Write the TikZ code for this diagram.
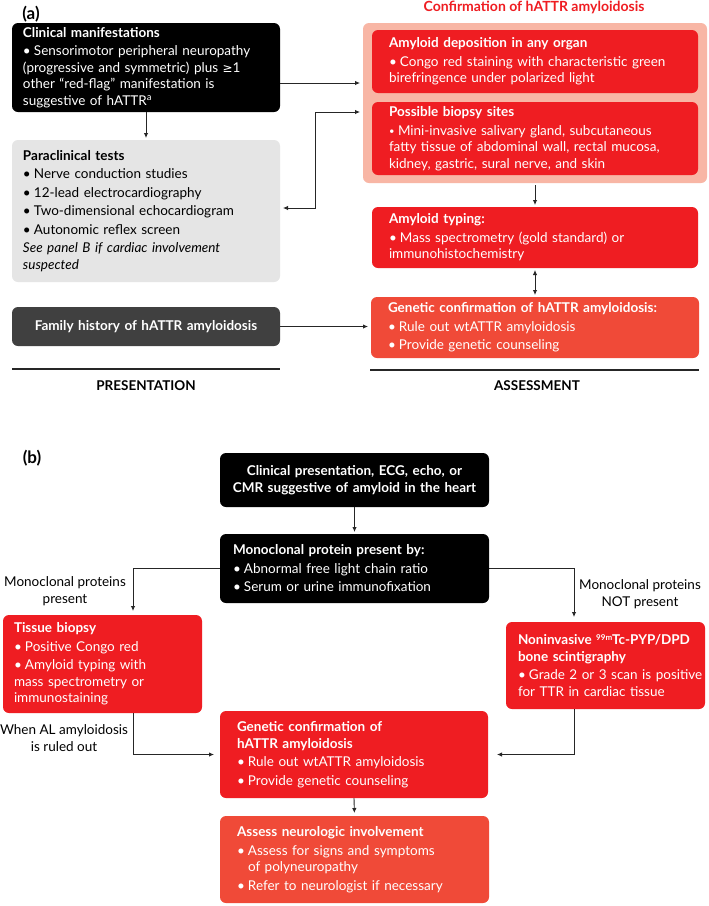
\documentclass[tikz,border=0pt]{standalone}
\usepackage{fontspec}
\setmainfont{Lato}
\newfontfamily\djv{DejaVu Sans}
\usetikzlibrary{arrows.meta}
\definecolor{cred}{RGB}{239,29,34}
\definecolor{cred2}{RGB}{240,74,56}
\definecolor{cpink}{RGB}{248,182,165}
\definecolor{cgrey}{RGB}{229,229,229}
\definecolor{cdark}{RGB}{64,64,64}
\setlength\parindent{0pt}
\newcommand\itm[1]{\par\vspace{2pt}\hangindent=11pt\hangafter=1\noindent\hbox to 11pt{\textbullet\hss}#1}
\newcommand\itmb[1]{\par\vspace{2pt}\hangindent=9pt\hangafter=1\noindent\hbox to 9pt{\raisebox{1pt}{\scalebox{0.7}{\textbullet}}\hss}#1}
\newcommand\fs{\fontsize{13.5}{16.5}\selectfont\hyphenpenalty=10000\exhyphenpenalty=10000\hbadness=10000\hfuzz=50pt}
\begin{document}
\begin{tikzpicture}[x=1pt,y=-1pt,
  box/.style={rounded corners=6pt, inner ysep=0pt, outer sep=0pt, align=left, font=\fs, text=white},
  arr/.style={-{Latex[length=5pt,width=4.5pt]}, line width=0.9pt, draw=black!85},
  arrb/.style={{Latex[length=5pt,width=4.5pt]}-{Latex[length=5pt,width=4.5pt]}, line width=0.9pt, draw=black!85},
  lbl/.style={font=\fs, align=center, inner sep=0pt},
  hdr/.style={font=\bfseries\fontsize{13.5}{16}\selectfont, inner sep=0pt}]
\useasboundingbox[fill=white] (0,0) rectangle (709,906);

% ---------- panel (a) ----------
\node[font=\bfseries\fontsize{17}{20}\selectfont, inner sep=0pt] (pa) at (31,14) {(a)};
\node[hdr, font=\bfseries\fontsize{14}{16}\selectfont, text=cred] (ttl) at (534,7) {Confirmation of hATTR amyloidosis};

\node[box, fill=black, minimum width=268, minimum height=89, inner xsep=11, text width=246] (clin) at (146,67.5)
 {{\bfseries Clinical manifestations}
 \itm{Sensorimotor peripheral neuropathy\newline (progressive and symmetric) plus {\djv\fontsize{12}{16}\selectfont ≥}1\newline other “red-flag” manifestation is\newline suggestive of hATTR\textsuperscript{a}}};

\node[box, fill=cgrey, text=black, minimum width=268, minimum height=142, inner xsep=11, text width=246] (para) at (146,211)
 {{\bfseries Paraclinical tests}
 \itm{Nerve conduction studies}
 \itm{12-lead electrocardiography}
 \itm{Two-dimensional echocardiogram}
 \itm{Autonomic reflex screen}
 \par\vspace{2pt}\textit{See panel B if cardiac involvement\newline suspected}};

\node[box, fill=cdark, minimum width=268, minimum height=39, inner xsep=11, text width=246, align=center, font=\bfseries\fs] (fam) at (146,326.5)
 {Family history of hATTR amyloidosis};

\node[rounded corners=6pt, fill=cpink, minimum width=344, minimum height=160, inner sep=0pt, outer sep=0pt] (bg) at (535,103) {};

\node[box, fill=cred, minimum width=326, minimum height=63, inner xsep=17, text width=292] (dep) at (535,61.5)
 {{\bfseries Amyloid deposition in any organ}
 \itm{Congo red staining with characteristic green\newline birefringence under polarized light}};

\node[box, fill=cred, minimum width=326, minimum height=73, inner xsep=17, text width=292] (sites) at (535,138.5)
 {{\bfseries Possible biopsy sites}
 \itmb{Mini-invasive salivary gland, subcutaneous\newline fatty tissue of abdominal wall, rectal mucosa,\newline kidney, gastric, sural nerve, and skin}};

\node[box, fill=cred, minimum width=326, minimum height=61, inner xsep=17, text width=292] (typ) at (535,237.5)
 {{\bfseries Amyloid typing:}
 \itm{Mass spectrometry (gold standard) or\newline immunohistochemistry}};

\node[box, fill=cred2, minimum width=328, minimum height=61, inner xsep=17, text width=294] (gena) at (535,327.5)
 {{\bfseries Genetic confirmation of hATTR amyloidosis:}
 \itm{Rule out wtATTR amyloidosis}
 \itm{Provide genetic counseling}};

\coordinate (pl1) at (12,369);
\coordinate (pl2) at (280,369);
\draw[line width=1.2pt, draw=black!85] (pl1) -- (pl2);
\node[hdr] (pres) at (146,386) {PRESENTATION};
\coordinate (al1) at (370,370);
\coordinate (al2) at (699,370);
\draw[line width=1.2pt, draw=black!85] (al1) -- (al2);
\node[hdr] (asse) at (537,386) {ASSESSMENT};

\draw[arr, shorten >=3pt] (clin.east |- 0,83) -- (bg.west |- 0,83);
\draw[arr, shorten >=2pt] (clin.south) -- (para.north);
\draw[arrb, shorten >=3pt, shorten <=3pt] (para.east |- 0,208) -- ++(35,0) |- (bg.west |- 0,112);
\draw[arr, shorten <=2pt, shorten >=2pt] (bg.south) -- (typ.north);
\draw[arrb, shorten <=2pt, shorten >=2pt] (typ.south) -- (gena.north);
\draw[arr, shorten >=3pt] (fam.east) -- (gena.west |- fam.east);

% ---------- panel (b) ----------
\node[font=\bfseries\fontsize{17}{20}\selectfont, inner sep=0pt] (pb) at (32,458) {(b)};

\node[box, fill=black, minimum width=269, minimum height=54, inner xsep=8, text width=253, align=center, font=\bfseries\fs] (cp) at (354.5,480)
 {Clinical presentation, ECG, echo, or\\ CMR suggestive of amyloid in the heart};

\node[box, fill=black, minimum width=269, minimum height=69, inner xsep=13, text width=243] (mp) at (354.5,568.5)
 {{\bfseries Monoclonal protein present by:}
 \itm{Abnormal free light chain ratio}
 \itm{Serum or urine immunofixation}};

\node[box, fill=cred, minimum width=199, minimum height=98, inner xsep=11, text width=177] (tb) at (102.5,664)
 {{\bfseries Tissue biopsy}
 \itm{Positive Congo red}
 \itm{Amyloid typing with\newline mass spectrometry or\newline immunostaining}};

\node[box, fill=cred, minimum width=199, minimum height=87, inner xsep=12, text width=175] (ni) at (605.5,665.5)
 {{\bfseries \mbox{Noninvasive {\fontsize{8}{8}\selectfont\raisebox{4.5pt}{99m}}Tc-PYP/DPD}\newline bone scintigraphy}
 \itm{\mbox{Grade 2 or 3 scan is positive}\newline for TTR in cardiac tissue}};

\node[box, fill=cred, minimum width=268, minimum height=87, inner xsep=17, text width=234] (genb) at (354,754.5)
 {{\bfseries Genetic confirmation of\newline hATTR amyloidosis}
 \itm{Rule out wtATTR amyloidosis}
 \itm{Provide genetic counseling}};

\node[box, fill=cred2, minimum width=269, minimum height=87, inner xsep=17, text width=235] (neu) at (354.5,859.5)
 {{\bfseries Assess neurologic involvement}
 \itm{Assess for signs and symptoms\newline of polyneuropathy}
 \itm{Refer to neurologist if necessary}};

\node[lbl] (l1) at (65,591) {Monoclonal proteins\\present};
\node[lbl] (l2) at (640,594) {Monoclonal proteins\\NOT present};
\node[lbl] (l3) at (64,738) {When AL amyloidosis\\is ruled out};

\draw[arr, shorten >=2pt] (cp.south) -- (mp.north);
\draw[arr, shorten >=4pt] (mp.west) -| ([xshift=30.5]tb.north);
\draw[arr, shorten >=5pt] (mp.east) -| ([xshift=-31.5]ni.north);
\draw[arr, shorten >=6pt] ([xshift=30.5]tb.south) |- (genb.west);
\draw[arr, shorten >=9pt] ([xshift=-31.5]ni.south) |- (genb.east);
\draw[arr, shorten >=3pt] (genb.south) -- (neu.north);
\end{tikzpicture}
\end{document}
